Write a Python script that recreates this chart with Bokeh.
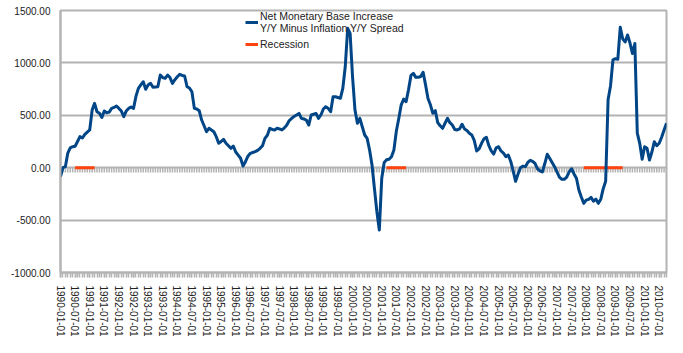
from bokeh.plotting import figure
from bokeh.models import FixedTicker, NumeralTickFormatter, Legend, LegendItem, ColumnDataSource, Range1d
from bokeh.embed import file_html
from bokeh.resources import INLINE

# ---- data -------------------------------------------------------------
years = list(range(1990, 2011))
month_labels = [f"{y}-{m:02d}-01" for y in years for m in range(1, 13)][:250]

spread = (
    # 1990
    [-86, 0, 10, 140, 190, 200, 205, 250, 296, 283, 318, 340] +
    # 1991
    [360, 550, 614, 534, 520, 480, 541, 525, 530, 566, 575, 589] +
    # 1992
    [566, 540, 487, 540, 566, 580, 566, 680, 757, 790, 820, 748] +
    # 1993
    [790, 805, 767, 770, 773, 884, 860, 853, 884, 860, 805, 840] +
    # 1994
    [868, 891, 880, 875, 773, 760, 725, 566, 560, 544, 455, 400] +
    # 1995
    [343, 376, 360, 343, 296, 233, 250, 271, 233, 210, 185, 207] +
    # 1996
    [150, 120, 90, 16, 57, 110, 137, 145, 153, 165, 185, 210] +
    # 1997
    [280, 310, 376, 365, 360, 376, 370, 360, 380, 407, 450, 471] +
    # 1998
    [490, 503, 518, 471, 465, 455, 407, 503, 510, 518, 471, 503] +
    # 1999
    [560, 582, 566, 534, 677, 677, 670, 662, 757, 963, 1330, 1282] +
    # 2000
    [868, 550, 424, 471, 391, 312, 280, 169, 26, -200, -420, -594] +
    # 2001
    [-100, 50, 75, 80, 105, 170, 350, 470, 600, 655, 630, 745] +
    # 2002
    [880, 900, 862, 862, 870, 910, 790, 660, 600, 519, 544, 430] +
    # 2003
    [400, 376, 424, 471, 430, 407, 365, 360, 370, 415, 370, 355] +
    # 2004
    [328, 312, 260, 160, 180, 233, 275, 290, 210, 160, 130, 190] +
    # 2005
    [200, 160, 140, 105, 121, 60, -30, -130, -60, 0, 15, 10] +
    # 2006
    [50, 70, 60, 40, -10, -30, -40, 40, 128, 90, 50, 10] +
    # 2007
    [-40, -90, -111, -111, -90, -40, -10, -60, -101, -213, -280, -340] +
    # 2008
    [-310, -302, -283, -320, -300, -340, -300, -200, -130, 650, 780, 1030] +
    # 2009
    [1040, 1035, 1340, 1230, 1200, 1266, 1190, 1090, 1185, 330, 233, 80] +
    # 2010
    [200, 185, 73, 150, 248, 210, 233, 290, 360, 424]
)

recession_periods = [("1990-07-01", "1991-03-01"),
                     ("2001-03-01", "2001-11-01"),
                     ("2007-12-01", "2009-04-01")]

y_ticks = [-1000, -500, 0, 500, 1000, 1500]

# ---- derived ------------------------------------------------------------
n = len(spread)
idx = list(range(n))
recession = [float("nan")] * n
for a, b in recession_periods:
    for i in range(month_labels.index(a), month_labels.index(b) + 1):
        recession[i] = 0.0

label_idx = [i for i in idx if month_labels[i][5:7] in ("01", "07")]

src = ColumnDataSource(dict(x=idx, spread=spread, recession=recession))

GRAY = "#b3b3b3"
FONT = "Liberation Sans"

p = figure(width=683, height=353, output_backend="svg", toolbar_location=None,
           x_range=Range1d(0, n - 1), y_range=Range1d(-1000, 1500),
           min_border_left=60, min_border_right=17, min_border_top=10,
           min_border_bottom=81)
p.background_fill_color = "white"
p.border_fill_color = "white"
p.outline_line_color = GRAY
p.outline_line_width = 2

p.xgrid.visible = False
p.ygrid.grid_line_color = GRAY
p.ygrid.grid_line_width = 2
p.yaxis.ticker = FixedTicker(ticks=y_ticks)
p.yaxis.formatter = NumeralTickFormatter(format="0.00")
p.yaxis.major_tick_out = 0
p.yaxis.major_tick_in = 0
p.yaxis.minor_tick_line_color = None
p.yaxis.axis_line_color = GRAY
p.yaxis.axis_line_width = 2
p.yaxis.major_label_standoff = 10
p.yaxis.major_label_text_font = FONT
p.yaxis.major_label_text_font_size = "10px"
p.yaxis.major_label_text_color = "#222222"

p.xaxis.ticker = FixedTicker(ticks=label_idx, minor_ticks=idx)
p.xaxis.major_label_overrides = {i: month_labels[i] for i in label_idx}
p.xaxis.major_label_orientation = "vertical"
p.xaxis.major_label_text_font = FONT
p.xaxis.major_label_text_font_size = "10px"
p.xaxis.major_label_text_color = "#222222"
p.xaxis.major_label_standoff = 8
p.xaxis.axis_line_color = GRAY
p.xaxis.axis_line_width = 2
p.xaxis.major_tick_out = 5
p.xaxis.major_tick_in = 0
p.xaxis.minor_tick_out = 5
p.xaxis.minor_tick_in = 0
p.xaxis.major_tick_line_color = GRAY
p.xaxis.minor_tick_line_color = GRAY
p.xaxis.major_tick_line_width = 1.5
p.xaxis.minor_tick_line_width = 1.5

# tick band along the zero line
p.segment(x0=idx, y0=[0] * n, x1=idx, y1=[-45] * n, line_color=GRAY, line_width=1.5)

r_rec = p.line("x", "recession", source=src, line_color="#ff420e", line_width=3)
r_net = p.line("x", "spread", source=src, line_color="#004586", line_width=3,
               line_join="round")

legend = Legend(items=[
    LegendItem(label="Net Monetary Base Increase\nY/Y Minus Inflation Y/Y Spread", renderers=[r_net]),
    LegendItem(label="Recession", renderers=[r_rec]),
], location=(185, 222))
legend.background_fill_alpha = 0
legend.border_line_color = None
legend.padding = 0
legend.margin = 0
legend.spacing = 4
legend.glyph_width = 13
legend.glyph_height = 10
legend.label_standoff = 2
legend.label_text_font = FONT
legend.label_text_font_size = "10.5px"
legend.label_text_color = "#222222"
legend.label_text_line_height = 1.1
p.add_layout(legend, "center")

open("out.html", "w").write(file_html(p, INLINE))
